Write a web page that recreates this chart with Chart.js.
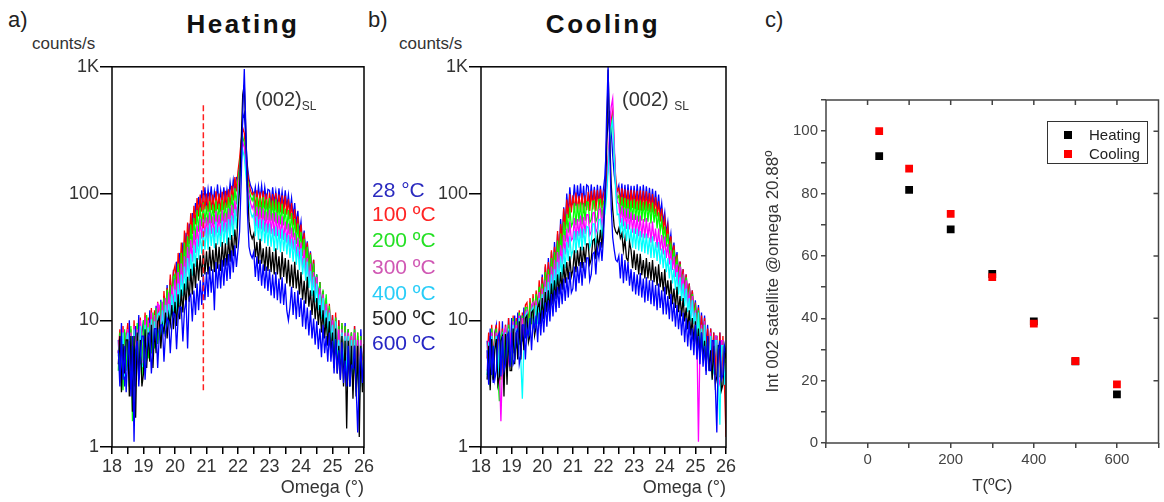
<!DOCTYPE html>
<html>
<head>
<meta charset="utf-8">
<script src="https://cdn.jsdelivr.net/npm/chart.js@4.4.1/dist/chart.umd.min.js"></script>
<style>
  body { margin: 0; width: 1164px; height: 502px; background: #fff; position: relative; overflow: hidden;
         font-family: "Liberation Sans", Arial, sans-serif; color: #222; }
  canvas { position: absolute; }
  .t { position: absolute; white-space: nowrap; line-height: 1; }
  .panel { font-size: 22px; }
  .title { font-size: 26px; font-weight: bold; letter-spacing: 2.5px; width: 200px; text-align: center; color: #111; }
  .units { font-size: 17px; color: #333; }
  .peak { font-size: 20px; color: #333; }
  .peak sub { font-size: 12px; vertical-align: -4px; }
  .temp { font-size: 21px; left: 372px; }
  #legC { position: absolute; left: 1047px; top: 121px; width: 99px; height: 41px; border: 1.5px solid #333;
          font-size: 15px; color: #222; }
  #legC div { position: absolute; left: 16px; white-space: nowrap; line-height: 1; }
  #legC span { display: inline-block; width: 8px; height: 8px; margin-right: 17px; vertical-align: 1px; }
</style>
</head>
<body>
<canvas id="chartA" width="340" height="447" style="left:40px; top:55px"></canvas>
<canvas id="chartB" width="340" height="447" style="left:400px; top:55px"></canvas>
<canvas id="chartC" width="419" height="447" style="left:745px; top:55px"></canvas>

<div class="t panel" style="left:8px; top:9px">a)</div>
<div class="t panel" style="left:368px; top:9px">b)</div>
<div class="t panel" style="left:765px; top:9px">c)</div>
<div class="t title" style="left:143px; top:11px">Heating</div>
<div class="t title" style="left:503px; top:11px">Cooling</div>
<div class="t units" style="left:32px; top:35px">counts/s</div>
<div class="t units" style="left:399px; top:35px">counts/s</div>
<div class="t peak" style="left:255px; top:89px">(002)<sub>SL</sub></div>
<div class="t peak" style="left:622px; top:89px">(002) <sub>SL</sub></div>

<div class="t temp" style="top:179px; color:#2b2bbf">28 °C</div>
<div class="t temp" style="top:203px; color:#ff2424">100 ºC</div>
<div class="t temp" style="top:229px; color:#24e024">200 ºC</div>
<div class="t temp" style="top:256px; color:#d058b4">300 ºC</div>
<div class="t temp" style="top:282px; color:#28cdf8">400 ºC</div>
<div class="t temp" style="top:307px; color:#222">500 ºC</div>
<div class="t temp" style="top:332px; color:#2626c4">600 ºC</div>

<div id="legC">
  <div style="top:5px"><span style="background:#000"></span>Heating</div>
  <div style="top:24px"><span style="background:#f00"></span>Cooling</div>
</div>

<script>
// omega (deg), 0.05 steps
const omega = [18.2,18.25,18.3,18.35,18.4,18.45,
  18.5,18.55,18.6,18.65,18.7,18.75,18.8,18.85,18.9,18.95,
  19.0,19.05,19.1,19.15,19.2,19.25,19.3,19.35,19.4,19.45,
  19.5,19.55,19.6,19.65,19.7,19.75,19.8,19.85,19.9,19.95,
  20.0,20.05,20.1,20.15,20.2,20.25,20.3,20.35,20.4,20.45,
  20.5,20.55,20.6,20.65,20.7,20.75,20.8,20.85,20.9,20.95,
  21.0,21.05,21.1,21.15,21.2,21.25,21.3,21.35,21.4,21.45,
  21.5,21.55,21.6,21.65,21.7,21.75,21.8,21.85,21.9,21.95,
  22.0,22.05,22.1,22.15,22.2,22.25,22.3,22.35,22.4,22.45,
  22.5,22.55,22.6,22.65,22.7,22.75,22.8,22.85,22.9,22.95,
  23.0,23.05,23.1,23.15,23.2,23.25,23.3,23.35,23.4,23.45,
  23.5,23.55,23.6,23.65,23.7,23.75,23.8,23.85,23.9,23.95,
  24.0,24.05,24.1,24.15,24.2,24.25,24.3,24.35,24.4,24.45,
  24.5,24.55,24.6,24.65,24.7,24.75,24.8,24.85,24.9,24.95,
  25.0,25.05,25.1,25.15,25.2,25.25,25.3,25.35,25.4,25.45,
  25.5,25.55,25.6,25.65,25.7,25.75,25.8,25.85,25.9,25.95,
  26.0];

// heating, counts/s
const heat28 = [7,3.5,9.5,5,3,8,
  4.5,10,4,7.5,3,9,5.5,11,4.5,8,
  10,5,9,5.5,12,5.5,10.5,6.5,13,7,
  9,14.5,8,15.5,10.5,19,12,21,14.5,25,
  17,29,20,34,25,41,29,49,36,58,
  44,70,52,84,64,94,74,106,82,112,
  80,108,84,114,78,104,86,118,80,106,
  82,112,86,108,90,122,96,128,102,134,
  135,160,230,390,430,260,165,130,115,108,
  92,112,86,114,90,116,84,112,88,108,
  106,80,112,84,104,78,110,82,104,78,
  106,78,98,72,92,66,84,57,73,49,
  60,39,51,33,42,27,35,22,30,18,
  23,14,20,12,17,9.5,15,8,12.5,7,
  11,5.5,10.5,4.5,10,4.5,9,3.8,9.5,4.5,
  8.5,3.2,8,3,9,3.8,7.5,2.6,8.5,3.8,
  6.5];
const heat100 = [5.5,8.5,3.2,9,4.5,7,
  9.5,3.5,8.5,2.6,10,4.8,9,4,10.5,5,
  6.5,11.5,4.8,10.5,6,12.5,5.5,12,7,14,
  8.5,13.5,9,17,10.5,18,12.5,23,15,24,
  27,17.5,34,22,41,26,51,33,59,40,
  70,48,80,57,92,66,98,72,102,75,
  100,72,102,74,98,70,104,75,100,72,
  103,74,105,77,108,80,115,88,135,104,
  150,190,260,330,300,200,150,120,105,98,
  102,77,106,75,103,73,105,76,100,72,
  102,71,99,73,101,70,98,71,97,69,
  96,68,90,63,84,56,75,49,66,44,
  57,36,49,30,41,25,34,21,30,17,
  22,13.5,20,11,17,9.5,14.5,7.5,13.5,6.8,
  11,5,11.5,4.5,10,3.8,9.5,4.2,9,3.2,
  8.5,3.8,8,2.8,9,3.2,8,2.5,7.5,3.5,
  6.5];
const heat200 = [4,8,5,2.8,8.5,4,
  7.5,3,9,1.6,8,3.8,9.5,4.2,7,3.2,
  10,4.5,11,5,9.5,5.5,11.5,6,12.5,6.5,
  8,14,8.5,15,10,17.5,11,19,13,22,
  23,15,28,18,34,21,41,26,46,30,
  57,37,64,43,74,50,78,55,85,58,
  80,56,87,58,82,57,88,59,83,58,
  89,60,85,59,94,64,98,70,110,82,
  125,160,220,280,250,170,130,108,95,88,
  96,66,94,63,92,64,94,61,90,62,
  92,61,88,60,90,58,86,57,83,56,
  76,52,74,48,70,45,63,40,58,36,
  50,32,44,27,38,24,33,20,28,17,
  23,14,20,11.5,17.5,10,16,8.5,13,7.2,
  10,5.2,10.5,4.8,9,4.2,9.5,3.8,9,3.8,
  8.5,3.4,8,3.2,8.5,2.9,8,2.7,7.5,3.4,
  5.5];
const heat300 = [5.5,7.5,3.2,8.5,4,7,
  8.5,3.4,8,2.5,9,4.2,8.5,3.8,10,4.6,
  4.8,10.5,5,10,5.5,11.5,6,11,6.8,13.5,
  13,7.8,14,8.5,15,10,16.5,11.5,18.5,13,
  21,14,24,16,28,19,32,22,38,25,
  43,29,51,34,56,38,63,44,67,46,
  65,44,71,48,66,45,73,49,68,46,
  74,50,70,48,76,52,81,56,88,66,
  105,140,200,255,230,160,120,98,84,76,
  83,55,79,53,78,52,76,50,72,49,
  74,48,70,46,71,46,67,44,66,43,
  60,41,58,38,54,36,49,32,45,30,
  41,26,36,23,31,20,28,17,24,15.5,
  22,13.5,18,11,16,9.5,13.5,8,12,7.2,
  10,5.5,9.5,4.6,8.5,4.2,8.5,3.8,8,3.8,
  8,3.4,7.5,2.9,8,2.9,7,2.5,7,3.2,
  4.8];
const heat400 = [5.2,6.8,3,8,3.6,6.5,
  8,3.2,7.5,2.7,8.5,3.8,8,3.5,9,4.3,
  4.4,9.2,4.8,8.8,5.2,10.2,5.6,9.8,6,11,
  11.5,6.8,12,7.8,13.2,8.6,13.5,9.5,16,10.8,
  17.5,11.2,19.5,13.4,23,15.5,26.5,17.2,31,20.5,
  33.5,22.5,39,26.5,44,30,49.5,33.5,52,36,
  54,36,58,38.5,54,37,60,39.5,55,38,
  61,40.5,59,39.5,63,43,67,46,75,53,
  90,120,170,220,195,140,105,85,72,65,
  69,46,66,43,63,42,62,40.5,58,38.5,
  58,38,53,35,55,36,52,34.5,53,35,
  49,33,47,31,44,29,43,27.5,38,25,
  37,23,31,20.5,29,18,24.5,15.5,22,13.8,
  19.5,12,16,10.3,15,9,12,7.8,11.5,6.9,
  9.2,5.2,9.8,4.7,7,3.9,8,3.9,7.5,3.4,
  7.5,3,7,3,7,2.7,5.2,2.2,6.3,3,
  4.8];
const heat500 = [4.5,7.5,2.7,6.5,3.8,7,
  7,2.5,7.5,1.9,7.5,1.7,8,3.4,7,3,
  3.8,8.5,4.2,8,4.7,9.2,4.2,8.6,5.5,9.8,
  10.5,6,9.2,8,11.5,7.2,11,9.2,13.2,8.5,
  14,9,16,10.2,17.5,11.5,19.5,12.8,22,14,
  25.5,16,28,18,31,20.5,32.5,22,36,23,
  35,23,38,24.5,36,24,40.5,25.5,38,24.5,
  41.5,26.5,40.5,27,45,29,47,32,52,37,
  70,110,250,600,720,300,110,60,48,44,
  48,31.5,41.5,28,44,28,37,24.5,38,24.5,
  38,24,34.5,23,37,23,32,21,34.5,22,
  31,19.5,30,18.5,27.5,18,29,17.8,25,16,
  24,14.5,20.5,13.5,22,12.8,17.2,11,17.2,10.2,
  15,9.2,13.2,8,12,7.2,10.5,6.3,9.8,5.5,
  8,4.2,8.6,3.8,6.3,3.4,7.5,3,6.9,1.4,
  6.9,3,6.3,2.4,6.3,2.5,6.3,1.2,6.3,2.7,
  4.6];
const heat600 = [5.8,3,7.5,3.4,6.3,2.7,
  5.2,6.9,2.5,6.3,1.1,5.8,6.9,3,5.2,7.5,
  7.5,3.4,5.8,7.5,8,3.8,6.3,8.6,8.6,4.2,
  7.5,9.2,9.2,4.7,8,10.4,9.8,5.5,9.2,11.5,
  11,5.9,10.4,12.7,12.7,6.8,12,14.4,6,15,
  16,9.8,17.2,11,19.5,12,20.7,13.2,23,14.4,
  24,15.3,26.5,16.5,25.3,12,28.8,17.8,27.6,17.8,
  30,18.7,31,20.4,33.3,21.2,35.6,23.8,39,26.3,
  36,50,120,420,960,320,70,38,33,31,
  34.5,22,32,20.4,30,18.7,27.6,17.8,26.5,17,
  25.3,15.7,23,14.9,24,14.4,21.3,13.6,21.8,13.2,
  19.5,11.9,10,12.7,18.4,11,16.7,10.2,17.2,10.6,
  15,8.9,14.4,8.5,12.6,7.6,12,7.2,10.3,6.4,
  9.8,5.9,8.6,5.1,9.2,5.5,7.5,4.7,8,4.7,
  6.9,3.8,7.1,3.8,5.8,3.4,6.7,3.2,4.8,3,
  6.3,3,4.4,4.2,6.3,3,1.3,3.8,6,3.2,
  5.2];

// cooling, counts/s
const cool28 = [6.9,3.4,8.6,4.2,3.2,8,
  9.2,3.8,8.6,4.2,9.8,3.4,9.2,4.7,10.4,5.1,
  10.4,5.5,10.9,6,11.5,6.4,10.9,6.8,12.6,7.2,
  11.5,10.6,12,11,13.8,12.7,15,13.6,17.2,15.3,
  23,14.4,26.5,16.1,31,19.5,34.5,22,41.4,26.3,
  48,30.6,63,41,78,53,100,68,112,80,
  84,118,80,116,84,120,82,115,79,117,
  114,81,118,83,113,80,117,82,115,84,
  110,140,260,350,450,320,200,140,115,105,
  116,85,120,84,117,82,118,83,115,81,
  115,82,118,83,114,80,117,82,114,81,
  111,80,109,78,105,73,98,68,84,59,
  71,48,59,39,48,32,41,27.5,34.5,23,
  29,19.5,25.3,16.9,23,15,19.5,12.9,17.2,11,
  14.4,8.9,13.2,7.6,11.5,7.1,10.9,6.2,9.2,5.3,
  8.6,4.4,8,4,7.5,3.7,8,3.6,6.9,4,
  6];
const cool100 = [5,8,4,9.2,4.9,7.5,
  9.2,4.4,9.8,3.4,8.6,4.4,9.2,4,10.4,4.9,
  5.8,10.9,5.3,10.4,6.7,12,6.2,11.5,8,13.2,
  13.8,8.9,15,10.2,16.1,11,17.2,12.4,20.7,14.2,
  21.9,15,27.6,18.7,28.8,19.5,35.6,24,38,26.7,
  50.6,33.8,57.5,40,76,51.6,89.7,64,99,71,
  97,74,102,72,96,73,101,70,97,74,
  103,73,105,75,107,73,106,76,108,77,
  100,108,130,180,260,380,445,220,130,105,
  110,80,110,77,108,76,106,75,107,77,
  106,75,105,74,106,73,105,74,104,73,
  101,71,99,69,94,66,87,60,76,52,
  64,44.5,55,37,46,31,39,26,33,22,
  29,18.7,25.3,16.5,23,14.2,19.5,12.9,17.2,11,
  13.8,8.5,12.6,7.1,10.9,6.7,10.4,5.8,8.6,4.9,
  8.6,4.4,8,3.7,7.5,4,8,3.4,7.5,3.1,
  1.2];
const cool200 = [5.8,5.8,3.6,8.6,4.3,6.9,
  8.6,3.7,2.3,7.5,8,4,8.6,3.6,9.2,4.9,
  5.3,10.4,4.9,9.8,6.2,11.5,5.8,10.9,7.6,12.6,
  12.6,8.5,13.8,9.3,15,10.2,16.1,11.6,18.4,12.9,
  19.5,13.4,24,16.5,25.3,17.8,31,21.4,34.5,24,
  42.5,29.4,48.3,33.8,59.8,41.8,69,49,78,55,
  59,84,56,83,60,85,57,84,61,86,
  85,59,62,87,87,60,65,90,90,64,
  86,92,115,160,240,340,400,220,120,92,
  96,68,94,66,92,64,90,63,88,62,
  90,62,87,60,88,61,86,60,87,60,
  83,58,85,59,76,53,71,50,62,44,
  55,38,48,34,40,28.5,36,25,30,20.5,
  27.6,17.8,23,15.6,21.8,14.2,17.2,11.6,16.1,10.7,
  12.6,8,12,6.7,9.2,5.8,9.8,5.3,6.9,4.3,
  8,4,4.5,7.5,7.5,3.6,3.6,6.9,6.9,3.4,
  5.2];
const cool300 = [4,6.9,3.1,8,4,6.3,
  8,3.6,4,1.6,4.5,8,8.6,4,4.9,8,
  4.9,9.8,5.3,9.2,5.8,10.9,5.8,10.4,7.1,11.5,
  12,7.6,8.9,13.2,13.8,8.9,14.4,10.2,16.7,11.1,
  17.8,12.5,20.7,14.2,23,16,26.5,18.7,30,20.5,
  34.5,24,39,27.6,47,33,53,37.4,60,42.7,
  44.5,64,42.7,63,46,67,44.5,65.5,48,68,
  68,47,50,70,71,49,53,74,76,53,
  75,85,110,180,300,480,560,250,120,85,
  83,59,80,55,76,52.5,76,52,71,49,
  69,48,67,46,67,45,63,44.5,64,44.5,
  59,41,60,42,53,37.4,53,35.6,47,33,
  46,31,40,27.6,35.6,25,32,22,27.6,18.7,
  26.5,17.8,21.8,14.7,20.7,13.4,16.1,10.7,15.5,9.8,
  12,7.6,1.1,6.2,9.2,5.3,9.8,4.9,6.9,4,
  8,3.7,4,7.5,7.5,3.4,3.1,6.9,6.9,3.1,
  4.6];
const cool400 = [3.7,6.7,3,7.5,3.6,6,
  7.5,3.4,6.9,3.7,8,3.1,8,4,8.6,4.5,
  4.5,9.2,4.9,8.6,5.3,10.4,4.9,2.4,6.2,10.9,
  11.5,7.1,8.5,12,12.6,8.5,13.2,9.3,15,10.2,
  16.1,11.1,18.4,12.9,20,14.2,23,16,25.3,17.8,
  28.8,19.5,32,22,36.8,25.8,41.4,29.4,46,32,
  35.6,50.6,33.8,50.6,37.4,53,35.6,53,39,55,
  54,37.4,41,57.5,57.5,40,44.5,62,63,45.4,
  62,70,95,150,250,330,380,200,100,68,
  69,48,64,44.5,60,42,57.5,40,53,37.4,
  53,36.5,53,35.6,50.6,34.7,48.3,33.8,48.3,33,
  45,31,46,31,41.4,29.4,41.4,27.6,36.8,25.8,
  35.6,24,31,21.4,30,19.5,25.3,17.4,24,16,
  21.8,14.2,19.5,12.9,17.8,11.6,15,9.8,14.4,9.3,
  11.5,7.1,11.5,6.2,8.6,5.3,9.2,4.9,6.3,4,
  7.5,3.6,4,6.9,6.9,3.4,1.5,6.3,6.3,3.1,
  4.6];
const cool500 = [3.4,6.3,2.8,7.1,3.4,5.8,
  7.1,3.1,3.6,6.9,7.5,2.5,7.8,3.1,8,4,
  4,8.6,4.5,8,4.9,9.8,4.9,9.2,5.8,10.4,
  10.9,6.7,7.6,11.5,12,7.6,8.9,12.6,13.8,9.3,
  15,10.2,16.7,11.6,17.2,12,19.5,13.4,20.7,14.7,
  23,16,24,17.4,27.6,19.6,28.8,21,32,22.2,
  24.9,35.6,24,35.6,26.7,38,25.8,38,28.5,40,
  40,27.6,30.3,42.5,43.7,30.3,46,38.3,51.8,37.4,
  55,90,200,950,300,120,75,55,50,48,
  53,44.5,48.3,35.6,43.7,31,29.4,41.4,35.6,25.8,
  35.6,24.9,33.4,23,33.4,22.7,29.9,21.4,31,21.4,
  28.8,20.5,29.9,20,26.5,18.7,27.6,18.2,24,16.9,
  25.3,16,20.7,14.7,20.7,13.4,17.8,12.5,18.4,11.6,
  15.5,10.7,15,9.8,12.6,8.5,12,7.6,10.4,6.7,
  9.8,5.8,8.6,5.3,8,4.9,6.9,4,7.5,4,
  5.8,3.4,6.3,3.1,3.6,6.3,6.3,2.8,3.1,6.3,
  5];
const cool600 = [5.8,3.1,7.5,3.7,6.3,3.4,
  4,7.5,8,3.6,7.5,4,4.5,7.5,8,4.3,
  8,4.5,4.9,8,8.6,4.5,5.3,9.2,9.2,4.9,
  8.6,7.6,10.4,5.8,9.8,8.5,10.9,6.7,11.5,7.6,
  12,8,13.8,8.9,14.4,9.8,16.1,10.7,17.2,11.6,
  18.4,12.5,19.5,13.4,21.3,14.2,21.8,15.1,24,16.5,
  17.8,26.5,16.9,26.5,19.6,28.8,18.7,28.8,21.4,31,
  31,20.5,23,33.4,34.5,23,36.8,31,41.4,29.4,
  45,110,400,1000,260,80,45,36,30,29,
  32.2,21.4,33.4,19.6,29.9,20.5,28.8,18.7,25.3,16.9,
  24,16,23,15.6,23.6,15.1,21.3,13.8,21.8,14.2,
  20.7,13.4,20.7,12.9,19,12,19.5,12.5,17.2,11.1,
  18.4,11.1,15.5,10.2,16.1,9.8,13.8,8.9,13.2,8.5,
  12,7.6,11.5,6.7,10.4,6.2,9.8,5.8,8.6,5.3,
  9.2,4.9,7.5,4.5,8,4.3,6.3,3.7,7.5,4,
  4,6.9,6.9,3.1,1.3,5.8,6.9,3.4,3.7,6.3,
  5.5];

const seriesColors = ['#0000ff', '#ff0000', '#00ff00', '#ff00ff', '#00ffff', '#000000', '#0000ff'];
const seriesLabels = ['28 °C', '100 ºC', '200 ºC', '300 ºC', '400 ºC', '500 ºC', '600 ºC'];

// satellite intensity at omega 20.88
const tempC = [28, 100, 200, 300, 400, 500, 600];
const intHeating = [92, 81.2, 68.5, 54.2, 39, 26.2, 15.6];
const intCooling = [100, 88, 73.5, 53.2, 38.3, 26.3, 18.8];

const markerLine = {x: 20.9, from: 2.8, to: 500};

Chart.defaults.font.family = "'Liberation Sans', Arial, sans-serif";
Chart.defaults.color = '#333';
Chart.defaults.animation = false;

const framePlugin = {
  id: 'frame',
  afterDatasetsDraw(chart, args, opts) {
    const {ctx, chartArea: a} = chart;
    ctx.save();
    ctx.strokeStyle = opts.color;
    ctx.lineWidth = opts.width;
    ctx.strokeRect(a.left, a.top, a.right - a.left, a.bottom - a.top);
    if (opts.innerTicks) {
      const xs = chart.scales.x, ys = chart.scales.y;
      ctx.beginPath();
      xs.ticks.forEach(t => {
        if (t.value <= xs.min || t.value >= xs.max) return;
        const px = xs.getPixelForValue(t.value);
        ctx.moveTo(px, a.top);
        ctx.lineTo(px, a.top + 5);
      });
      ys.ticks.forEach(t => {
        if (t.value % 20 || t.value <= ys.min) return;
        const py = ys.getPixelForValue(t.value);
        ctx.moveTo(a.right, py);
        ctx.lineTo(a.right - 5, py);
      });
      ctx.stroke();
    }
    ctx.restore();
  }
};

function spectrumChart(id, seriesValues, withMarker, padRight) {
  const datasets = seriesValues.map((vals, i) => ({
    label: seriesLabels[i],
    data: omega.map((x, k) => ({x: x, y: vals[k]})),
    borderColor: seriesColors[i],
    borderWidth: 1.3,
    pointRadius: 0,
    tension: 0,
    order: 6 - i
  }));
  if (withMarker) {
    datasets.push({
      label: 'omega 20.88',
      data: [{x: markerLine.x, y: markerLine.from}, {x: markerLine.x, y: markerLine.to}],
      borderColor: '#ff2020',
      borderWidth: 1.5,
      borderDash: [6, 3],
      pointRadius: 0,
      order: -1
    });
  }
  return new Chart(document.getElementById(id), {
    type: 'line',
    data: {datasets: datasets},
    plugins: [framePlugin],
    options: {
      responsive: false,
      layout: {padding: {top: 10, right: padRight, left: 0, bottom: 0}},
      plugins: {
        legend: {display: false},
        tooltip: {enabled: false},
        frame: {color: '#000', width: 1.5, innerTicks: false}
      },
      scales: {
        x: {
          type: 'linear', min: 18, max: 26,
          afterFit: s => { s.height = 55; },
          border: {display: false},
          grid: {drawOnChartArea: false, drawTicks: true, tickLength: 7, color: '#000', lineWidth: 1.5},
          ticks: {stepSize: 0.5, autoSkip: false, maxRotation: 0, padding: 2, color: '#333', font: {size: 18},
                  callback: v => Number.isInteger(v) ? String(v) : ''},
          title: {display: true, text: 'Omega (°)', align: 'end', color: '#333', font: {size: 18},
                  padding: {top: 0, bottom: 3}}
        },
        y: {
          type: 'logarithmic', min: 1, max: 1000,
          afterFit: s => { s.width = (id === 'chartA') ? 72 : 81; },
          afterBuildTicks: s => { s.ticks = [1, 10, 100, 1000].map(v => ({value: v})); },
          border: {display: false},
          grid: {drawOnChartArea: false, drawTicks: true, tickLength: 12, color: '#000', lineWidth: 1.5},
          ticks: {padding: 1, color: '#333', font: {size: 18},
                  callback: v => v === 1000 ? '1K' : String(v)}
        }
      }
    }
  });
}

spectrumChart('chartA', [heat28, heat100, heat200, heat300, heat400, heat500, heat600], true, 16);
spectrumChart('chartB', [cool28, cool100, cool200, cool300, cool400, cool500, cool600], false, 14);

new Chart(document.getElementById('chartC'), {
  type: 'scatter',
  data: {
    datasets: [
      {label: 'Heating', data: tempC.map((t, i) => ({x: t, y: intHeating[i]})),
       backgroundColor: '#000', borderWidth: 0, pointStyle: 'rect', pointRadius: 5.5, order: 1},
      {label: 'Cooling', data: tempC.map((t, i) => ({x: t, y: intCooling[i]})),
       backgroundColor: '#ff0000', borderWidth: 0, pointStyle: 'rect', pointRadius: 5.5, order: 0}
    ]
  },
  plugins: [framePlugin],
  options: {
    responsive: false,
    layout: {padding: {top: 45, right: 1, left: 0, bottom: 0}},
    plugins: {
      legend: {display: false},
      tooltip: {enabled: false},
      frame: {color: '#444', width: 1.5, innerTicks: true}
    },
    scales: {
      x: {
        type: 'linear', min: -100, max: 700,
        afterFit: s => { s.height = 59; },
        border: {display: false},
        grid: {drawOnChartArea: false, tickLength: 5, color: '#444', lineWidth: 1.5},
        ticks: {stepSize: 100, autoSkip: false, maxRotation: 0, padding: 3, color: '#444', font: {size: 15},
                callback: v => (v >= 0 && v % 200 === 0) ? String(v) : ''},
        title: {display: true, text: 'T(ºC)', color: '#333', font: {size: 17}, padding: {top: 0, bottom: 5}}
      },
      y: {
        type: 'linear', min: 0, max: 110,
        afterFit: s => { s.width = 81; },
        border: {display: false},
        grid: {drawOnChartArea: false, tickLength: 5, color: '#444', lineWidth: 1.5},
        ticks: {stepSize: 10, autoSkip: false, padding: 3, color: '#444', font: {size: 15},
                callback: v => (v % 20 === 0) ? String(v) : ''},
        title: {display: true, text: 'Int 002 satellite @omega 20.88º', color: '#333', font: {size: 17},
                padding: {top: 18, bottom: 0}}
      }
    }
  }
});
</script>
</body>
</html>
